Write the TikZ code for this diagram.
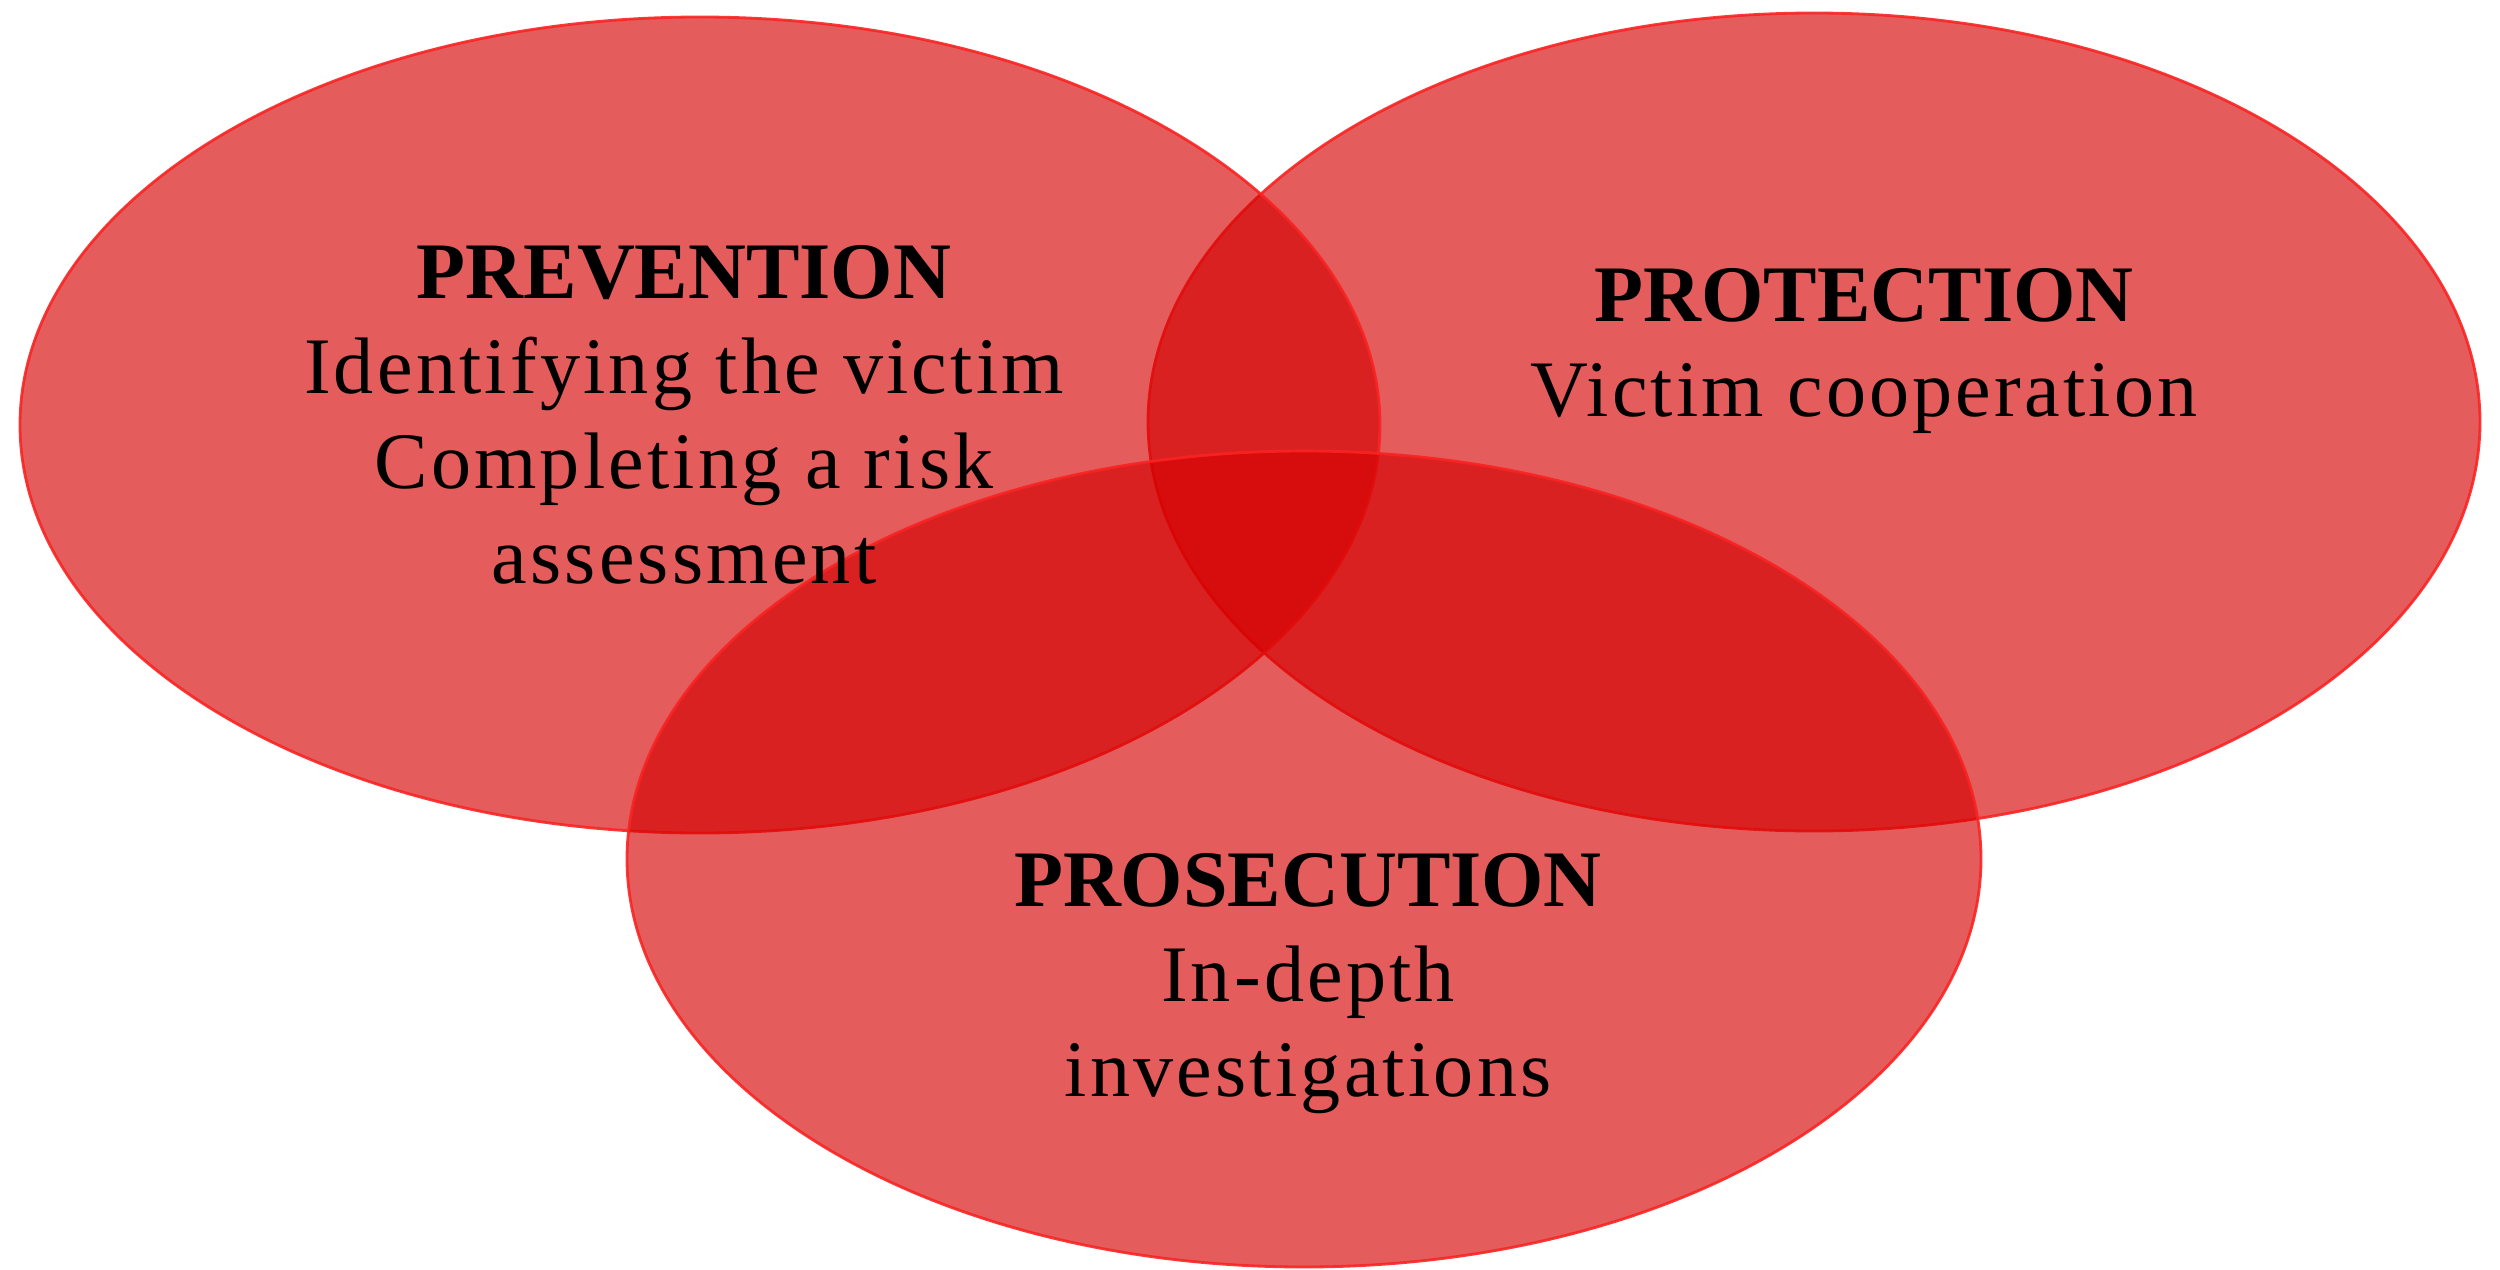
\documentclass[tikz,border=0pt]{standalone}
\usepackage{fontspec}
\setmainfont{Liberation Serif}
\usepackage{tikz}
\usepackage{xcolor}
\definecolor{setred}{RGB}{213,0,0}
\definecolor{rimred}{RGB}{250,35,35}
\newcommand{\spaced}{\addfontfeatures{LetterSpace=4}}

\begin{document}
\begin{tikzpicture}[
  setfill/.style={fill=setred, fill opacity=0.64, draw=rimred, draw opacity=0.9, line width=0.8pt},
  setlabel/.style={anchor=base, align=center, text=black, font=\fontsize{22.8}{27}\selectfont}
]
%\draw[help lines](0,0)grid(25,13);
\useasboundingbox (0,0) rectangle (25,12.69);
\path[setfill] (18.14,8.47) ellipse [x radius=6.66, y radius=4.09];
\path[setfill] (7.00,8.44) ellipse [x radius=6.80, y radius=4.08];
\path[setfill] (13.04,4.10) ellipse [x radius=6.77, y radius=4.08];

% base = baseline of the last line
\node[setlabel] (prevention) at (6.84,6.86) {\textbf{PREVENTION}\\ \spaced Identifying the victim\\ \spaced Completing a risk\\ \spaced assessment};
\node[setlabel] (protection) at (18.64,8.53) {\textbf{PROTECTION}\\ \spaced Victim cooperation};
\node[setlabel] (prosecution) at (13.08,1.73) {\textbf{PROSECUTION}\\ \spaced In-depth\\ \spaced investigations};

\end{tikzpicture}
\end{document}
